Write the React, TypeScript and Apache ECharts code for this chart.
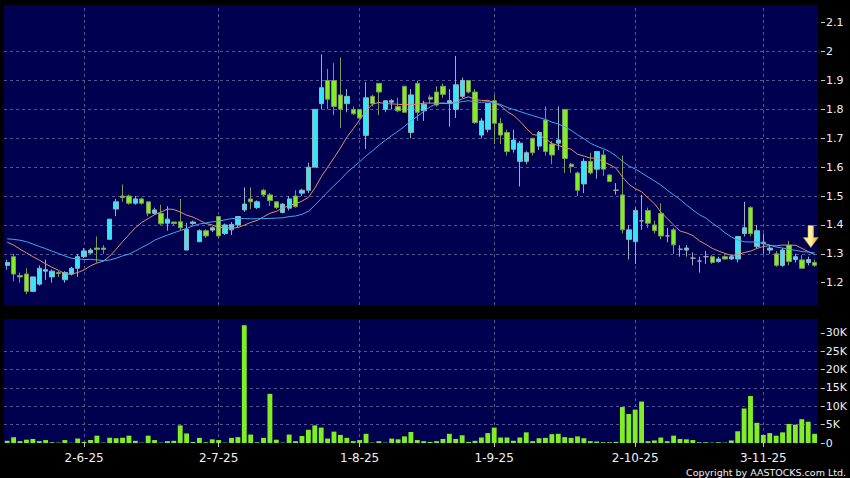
import React, { useEffect, useRef } from 'react';
import * as echarts from 'echarts';

// ---- trading days (HK), 15 May 2025 .. 13 Nov 2025 ----
const mayDays = [15, 16, 19, 20, 21, 22, 23, 26, 27, 28, 29, 30];
const junDays = [2, 3, 4, 5, 6, 9, 10, 11, 12, 13, 16, 17, 18, 19, 20, 23, 24, 25, 26, 27, 30];
const julDays = [2, 3, 4, 7, 8, 9, 10, 11, 14, 15, 16, 17, 18, 21, 22, 23, 24, 25, 28, 29, 30, 31];
const augDays = [1, 4, 5, 6, 7, 8, 11, 12, 13, 14, 15, 18, 19, 20, 21, 22, 25, 26, 27, 28, 29];
const sepDays = [1, 2, 3, 4, 5, 8, 9, 10, 11, 12, 15, 16, 17, 18, 19, 22, 23, 24, 25, 26, 29, 30];
const octDays = [2, 3, 6, 8, 9, 10, 13, 14, 15, 16, 17, 20, 21, 22, 23, 24, 27, 28, 30, 31];
const novDays = [3, 4, 5, 6, 7, 10, 11, 12, 13];
const months: [number, number[]][] = [
  [5, mayDays], [6, junDays], [7, julDays], [8, augDays], [9, sepDays], [10, octDays], [11, novDays],
];

// ---- candles: [open, close, low, high] ----
const candles: number[][] = [
  [1.26, 1.27, 1.245, 1.28], [1.29, 1.23, 1.205, 1.30], [1.225, 1.22, 1.20, 1.235], [1.23, 1.17, 1.16, 1.25],
  [1.17, 1.22, 1.17, 1.22], [1.195, 1.25, 1.19, 1.26], [1.24, 1.245, 1.21, 1.28], [1.22, 1.24, 1.20, 1.245],
  [1.235, 1.232, 1.22, 1.24], [1.21, 1.235, 1.20, 1.24], [1.23, 1.25, 1.225, 1.255], [1.25, 1.29, 1.22, 1.30],
  [1.29, 1.31, 1.285, 1.32], [1.303, 1.313, 1.30, 1.32], [1.32, 1.315, 1.27, 1.36], [1.32, 1.315, 1.30, 1.33],
  [1.35, 1.42, 1.35, 1.42], [1.455, 1.48, 1.43, 1.49], [1.50, 1.495, 1.48, 1.54], [1.50, 1.475, 1.47, 1.505],
  [1.475, 1.49, 1.47, 1.50], [1.49, 1.475, 1.47, 1.495], [1.48, 1.44, 1.43, 1.48], [1.44, 1.452, 1.435, 1.46],
  [1.44, 1.404, 1.40, 1.47], [1.406, 1.42, 1.38, 1.465], [1.41, 1.405, 1.40, 1.41], [1.411, 1.39, 1.38, 1.49],
  [1.313, 1.385, 1.313, 1.407], [1.405, 1.41, 1.40, 1.415], [1.342, 1.38, 1.34, 1.385], [1.38, 1.362, 1.355, 1.385],
  [1.382, 1.39, 1.375, 1.395], [1.429, 1.362, 1.355, 1.43], [1.37, 1.40, 1.365, 1.405], [1.383, 1.402, 1.365, 1.41],
  [1.40, 1.429, 1.39, 1.43], [1.452, 1.472, 1.445, 1.53], [1.49, 1.48, 1.455, 1.53], [1.46, 1.48, 1.455, 1.485],
  [1.52, 1.504, 1.50, 1.525], [1.504, 1.484, 1.465, 1.51], [1.48, 1.46, 1.455, 1.48], [1.443, 1.472, 1.44, 1.475],
  [1.458, 1.49, 1.45, 1.50], [1.50, 1.463, 1.46, 1.52], [1.51, 1.52, 1.50, 1.525], [1.52, 1.60, 1.51, 1.615],
  [1.60, 1.80, 1.60, 1.80], [1.82, 1.875, 1.80, 1.99], [1.90, 1.835, 1.80, 1.94], [1.90, 1.81, 1.78, 1.96],
  [1.85, 1.80, 1.735, 1.98], [1.82, 1.845, 1.79, 1.87], [1.80, 1.785, 1.78, 1.81], [1.80, 1.77, 1.765, 1.80],
  [1.71, 1.84, 1.663, 1.894], [1.845, 1.82, 1.81, 1.85], [1.89, 1.86, 1.78, 1.89], [1.80, 1.83, 1.79, 1.83],
  [1.825, 1.83, 1.80, 1.835], [1.81, 1.795, 1.79, 1.84], [1.88, 1.79, 1.79, 1.88], [1.72, 1.85, 1.70, 1.87],
  [1.89, 1.79, 1.76, 1.90], [1.795, 1.818, 1.76, 1.83], [1.842, 1.835, 1.82, 1.85], [1.86, 1.815, 1.81, 1.88],
  [1.88, 1.852, 1.84, 1.89], [1.82, 1.83, 1.74, 1.87], [1.80, 1.885, 1.77, 1.985], [1.845, 1.90, 1.84, 1.91],
  [1.90, 1.86, 1.855, 1.90], [1.86, 1.754, 1.75, 1.87], [1.711, 1.76, 1.70, 1.77], [1.731, 1.821, 1.72, 1.821],
  [1.83, 1.752, 1.68, 1.85], [1.752, 1.711, 1.68, 1.77], [1.72, 1.654, 1.64, 1.73], [1.662, 1.694, 1.65, 1.73],
  [1.62, 1.683, 1.533, 1.69], [1.62, 1.65, 1.61, 1.655], [1.70, 1.65, 1.64, 1.70], [1.673, 1.72, 1.66, 1.725],
  [1.763, 1.654, 1.64, 1.81], [1.68, 1.642, 1.61, 1.69], [1.683, 1.694, 1.66, 1.81], [1.80, 1.63, 1.58, 1.80],
  [1.61, 1.602, 1.58, 1.615], [1.58, 1.52, 1.50, 1.585], [1.542, 1.62, 1.51, 1.63], [1.62, 1.58, 1.575, 1.65],
  [1.593, 1.654, 1.56, 1.655], [1.642, 1.593, 1.57, 1.66], [1.573, 1.55, 1.55, 1.575], [1.52, 1.52, 1.505, 1.545],
  [1.504, 1.383, 1.37, 1.64], [1.35, 1.383, 1.28, 1.40], [1.342, 1.45, 1.265, 1.46], [1.414, 1.414, 1.383, 1.504],
  [1.45, 1.406, 1.39, 1.46], [1.40, 1.38, 1.37, 1.415], [1.44, 1.362, 1.35, 1.475], [1.362, 1.362, 1.34, 1.39],
  [1.383, 1.331, 1.30, 1.39], [1.316, 1.316, 1.29, 1.33], [1.313, 1.32, 1.29, 1.33], [1.285, 1.285, 1.26, 1.305],
  [1.275, 1.275, 1.235, 1.29], [1.29, 1.29, 1.265, 1.31], [1.29, 1.27, 1.265, 1.295], [1.273, 1.282, 1.27, 1.29],
  [1.29, 1.282, 1.28, 1.295], [1.282, 1.29, 1.28, 1.295], [1.282, 1.36, 1.27, 1.36], [1.37, 1.39, 1.36, 1.48],
  [1.46, 1.37, 1.36, 1.465], [1.325, 1.38, 1.32, 1.40], [1.335, 1.34, 1.30, 1.37], [1.313, 1.32, 1.30, 1.33],
  [1.30, 1.26, 1.255, 1.31], [1.26, 1.313, 1.255, 1.32], [1.33, 1.273, 1.26, 1.345], [1.28, 1.29, 1.27, 1.30],
  [1.279, 1.25, 1.25, 1.295], [1.27, 1.28, 1.26, 1.29], [1.27, 1.26, 1.255, 1.28],
];

// closes of the 19 sessions before the first bar (needed for the moving averages)
const priorCloses = [1.27, 1.28, 1.27, 1.38, 1.42, 1.40, 1.41, 1.40, 1.40, 1.408,
  1.33, 1.36, 1.30, 1.35, 1.37, 1.375, 1.36, 1.332, 1.355];

// ---- volume, thousands of shares ----
const volumeK = [
  0.6, 1.6, 0.5, 0.9, 1.1, 0.5, 0.8, 0.2, 0.1, 0.8, 0.1, 1.2, 0.3, 0.8, 2.0, 0.1, 1.4, 1.3, 1.4, 2.0,
  0.6, 0.1, 2.0, 0.8, 0.1, 0.5, 0.6, 4.8, 2.6, 0.3, 1.4, 0.2, 1.0, 0.8, 0.1, 1.4, 1.6, 32.1, 2.3, 0.2,
  1.4, 13.4, 0.9, 0.1, 2.3, 0.5, 1.9, 3.6, 4.8, 4.2, 1.2, 3.1, 2.2, 1.4, 0.5, 0.8, 2.5, 0.1, 0.5, 0.1,
  1.2, 1.0, 1.8, 3.0, 0.8, 0.5, 0.3, 0.5, 1.1, 2.5, 1.1, 2.1, 0.3, 0.6, 1.5, 2.7, 4.2, 1.5, 1.5, 0.6,
  1.5, 2.9, 0.5, 1.3, 1.4, 2.4, 2.5, 1.6, 1.4, 1.8, 1.3, 0.5, 0.4, 0.2, 0.2, 0.3, 9.8, 7.9, 9.1, 11.3,
  0.5, 0.7, 1.5, 0.5, 2.0, 1.1, 1.0, 0.8, 0.2, 0.2, 0.1, 0.2, 0.1, 0.7, 3.2, 9.4, 12.8, 5.5, 2.2, 2.7,
  2.0, 2.9, 5.2, 5.0, 6.5, 5.8, 2.5,
];

// ---- axes ----
const priceTicks = [1.2, 1.3, 1.4, 1.5, 1.6, 1.7, 1.8, 1.9, 2.0, 2.1];
const volumeTicks = [0, 5, 10, 15, 20, 25, 30];
const PRICE_MIN = 1.1228;
const PRICE_MAX = 2.1613;
const VOL_MAX = 33.8;
const maPeriods = [10, 20];
const ARROW_PRICE = 1.36;

const dates = months.flatMap(([m, ds]) => ds.map((d) => `${d}-${m}-25`));
const monthStart: number[] = [];
{
  let idx = 0;
  months.forEach(([, ds], k) => {
    if (k > 0) monthStart.push(idx);
    idx += ds.length;
  });
}
const monthStartSet = new Set(monthStart);

function movingAverage(period: number): number[] {
  const closes = [...priorCloses, ...candles.map((c) => c[1])];
  const off = priorCloses.length;
  return candles.map((_, i) => {
    let s = 0;
    for (let k = off + i - period + 1; k <= off + i; k++) s += closes[k];
    return Math.round((s / period) * 10000) / 10000;
  });
}

const NAVY = '#000050';
const CYAN = '#36e6f6';
const LIME = '#80ee22';
const FONT = 'DejaVu Sans';
const gridLine = { color: '#55558f', type: [3, 3] as number[], width: 1 };

function buildOption() {
  const vLines = monthStart.map((i) => ({ xAxis: dates[i] }));
  const markLine = {
    silent: true,
    symbol: 'none',
    z: 1,
    label: { show: false },
    lineStyle: gridLine,
    data: vLines,
  };
  return {
    animation: false,
    backgroundColor: '#000000',
    grid: [
      { left: 4, top: 5, width: 814, height: 300, show: true, backgroundColor: NAVY, borderWidth: 0 },
      { left: 4, top: 319, width: 814, height: 124, show: true, backgroundColor: NAVY, borderWidth: 0 },
    ],
    xAxis: [
      {
        type: 'category', gridIndex: 0, data: dates, boundaryGap: true,
        axisLine: { show: false }, axisTick: { show: false }, axisLabel: { show: false }, splitLine: { show: false },
      },
      {
        type: 'category', gridIndex: 1, data: dates, boundaryGap: true,
        axisLine: { show: false },
        axisTick: {
          show: true, alignWithLabel: true, length: 4,
          interval: (i: number) => monthStartSet.has(i),
          lineStyle: { color: '#c8c8c8' },
        },
        axisLabel: {
          interval: (i: number) => monthStartSet.has(i),
          color: '#f0f0f0', fontSize: 12, fontFamily: FONT, margin: 9,
        },
        splitLine: { show: false },
      },
    ],
    yAxis: [
      {
        type: 'value', gridIndex: 0, position: 'right', min: PRICE_MIN, max: PRICE_MAX, splitNumber: 10,
        offset: 3,
        axisLine: { show: false },
        axisTick: { show: true, length: 4, customValues: priceTicks, lineStyle: { color: '#c8c8c8' } },
        axisLabel: {
          customValues: priceTicks, showMinLabel: true, showMaxLabel: true,
          color: '#f0f0f0', fontSize: 11, fontFamily: FONT, margin: 5,
          formatter: (v: number) => String(parseFloat(v.toFixed(2))),
        },
        splitLine: { show: true, showMinLine: false, showMaxLine: false, lineStyle: gridLine },
      },
      {
        type: 'value', gridIndex: 1, position: 'right', min: 0, max: VOL_MAX, splitNumber: 7,
        offset: 3,
        axisLine: { show: false },
        axisTick: { show: true, length: 4, customValues: volumeTicks, lineStyle: { color: '#c8c8c8' } },
        axisLabel: {
          customValues: volumeTicks,
          color: '#f0f0f0', fontSize: 11, fontFamily: FONT, margin: 5,
          formatter: (v: number) => (v === 0 ? '0' : `${Math.round(v)}K`),
        },
        splitLine: { show: true, showMinLine: false, showMaxLine: false, lineStyle: gridLine },
      },
    ],
    series: [
      {
        type: 'candlestick',
        xAxisIndex: 0, yAxisIndex: 0,
        data: candles,
        barWidth: '76%',
        itemStyle: {
          color: CYAN, color0: LIME,
          borderColor: '#8fb4c0', borderColor0: '#7a9a5a', borderColorDoji: '#a8a8b4',
          borderWidth: 1,
        },
        markLine,
        markPoint: {
          silent: true,
          label: { show: false },
          data: [
            {
              coord: [dates[dates.length - 1], ARROW_PRICE],
              symbol: 'path://M5,0 L11,0 L11,12 L16,12 L8,22 L0,12 L5,12 Z',
              symbolSize: [15, 22],
              symbolOffset: [-4, 0],
              itemStyle: {
                color: {
                  type: 'linear', x: 0, y: 0, x2: 1, y2: 0,
                  colorStops: [
                    { offset: 0, color: '#ffd84a' },
                    { offset: 0.45, color: '#fff6c0' },
                    { offset: 1, color: '#f2a600' },
                  ],
                },
                borderColor: '#e8a000', borderWidth: 0.5,
              },
            },
          ],
        },
      },
      {
        type: 'line', name: `MA${maPeriods[0]}`,
        xAxisIndex: 0, yAxisIndex: 0,
        data: movingAverage(maPeriods[0]),
        showSymbol: false, symbol: 'none',
        lineStyle: { color: '#e09068', width: 1 },
        silent: true,
      },
      {
        type: 'line', name: `MA${maPeriods[1]}`,
        xAxisIndex: 0, yAxisIndex: 0,
        data: movingAverage(maPeriods[1]),
        showSymbol: false, symbol: 'none',
        lineStyle: { color: '#40a8f0', width: 1 },
        silent: true,
      },
      {
        type: 'bar',
        xAxisIndex: 1, yAxisIndex: 1,
        data: volumeK,
        barWidth: '76%',
        itemStyle: { color: LIME },
        markLine,
      },
    ],
    graphic: [
      {
        type: 'text', right: 4, bottom: 1,
        style: { text: 'Copyright by AASTOCKS.com Ltd.', fill: '#f0f0f0', fontSize: 9.5, fontFamily: FONT },
      },
    ],
  };
}

export default function App() {
  const ref = useRef<HTMLDivElement>(null);
  useEffect(() => {
    if (!ref.current) return;
    const chart = echarts.init(ref.current, undefined, { renderer: 'svg' });
    chart.setOption(buildOption() as any);
    return () => chart.dispose();
  }, []);
  return (
    <div style={{ position: 'absolute', left: 0, top: 0, width: 850, height: 478, background: '#000' }}>
      <div ref={ref} style={{ width: 850, height: 478 }} />
    </div>
  );
}
